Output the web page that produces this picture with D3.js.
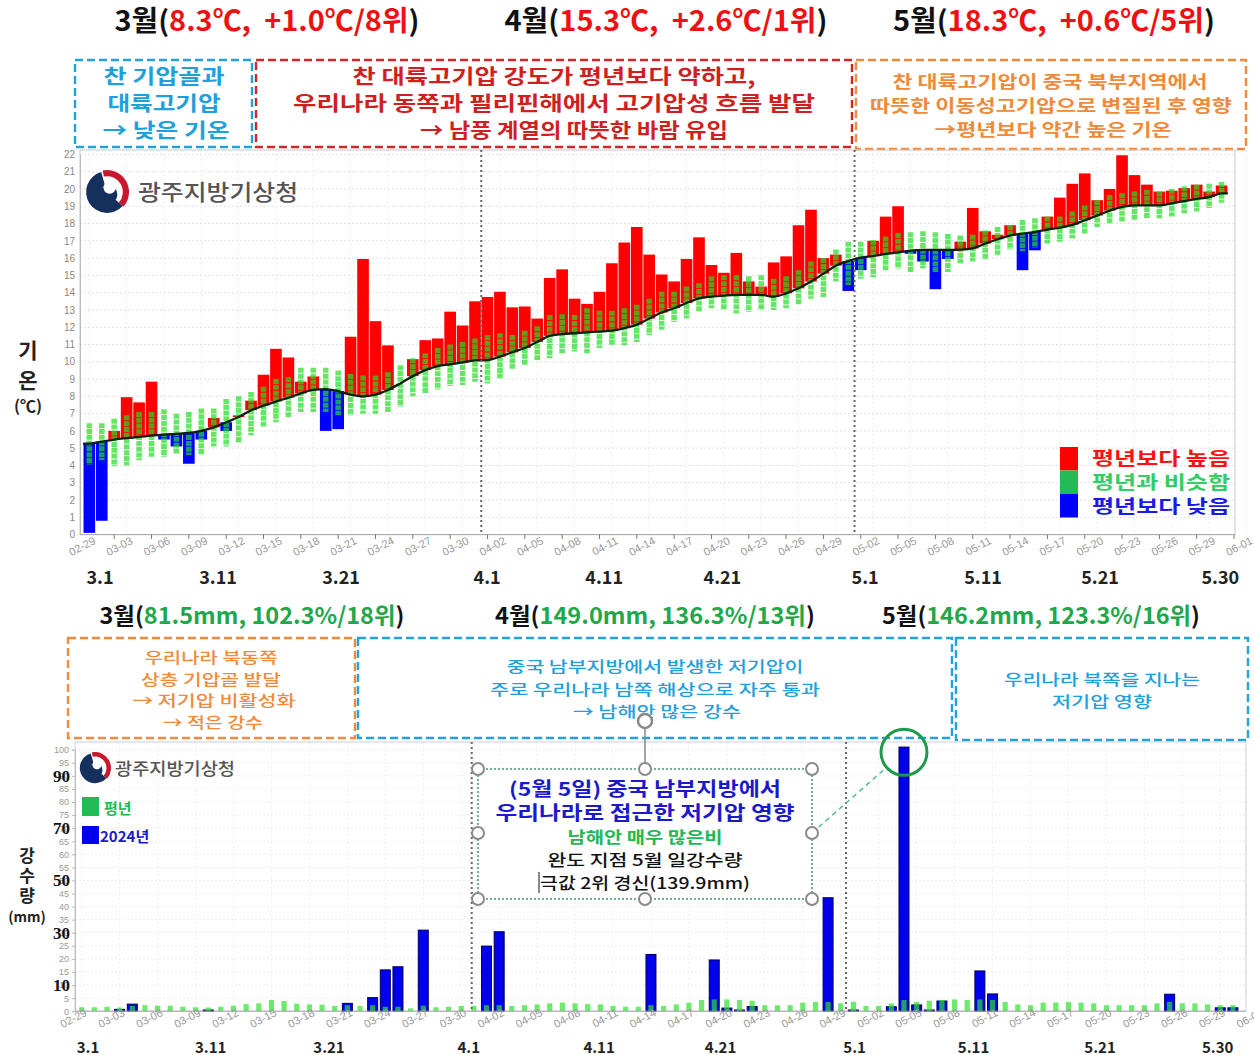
<!DOCTYPE html>
<html>
<head>
<meta charset="utf-8">
<script src="https://cdn.jsdelivr.net/npm/d3@7"></script>
<style>
body { margin: 0; background: #fff; }
svg { display: block; }
</style>
</head>
<body>
<script>
// ---- data : days 02-29 .. 05-30 (92 days) ----
var tickLabels = ["02-29","03-03","03-06","03-09","03-12","03-15","03-18","03-21","03-24","03-27","03-30",
  "04-02","04-05","04-08","04-11","04-14","04-17","04-20","04-23","04-26","04-29",
  "05-02","05-05","05-08","05-11","05-14","05-17","05-20","05-23","05-26","05-29","06-01"]
var dayLabels = ["3.1","3.11","3.21","4.1","4.11","4.21","5.1","5.11","5.21","5.30"]
var dayLabelPosTop = [0.86,10.35,20.23,31.97,41.38,50.88,62.35,71.83,81.23,90.9]
var dayLabelPosBottom = [0.5,10.2,19.55,30.6,40.9,50.5,61.1,70.5,80.5,89.8]

// daily mean temperature 2024
var tempActual = [0.1,0.8,6.0,7.95,7.65,8.85,5.5,5.1,4.1,5.5,6.75,6.0,6.9,7.75,9.25,10.75,10.25,8.85,9.15,6.0,
  6.1,11.45,15.95,12.35,10.95,8.75,10.15,11.25,11.35,12.9,12.1,13.5,13.75,14.05,13.15,13.2,12.5,14.85,15.35,13.65,
  13.35,14.05,15.7,16.9,17.8,16.2,15.05,14.65,15.95,17.2,15.6,15.15,16.3,14.65,14.35,15.75,16.1,17.9,18.8,16.0,
  16.2,14.1,15.3,17.0,18.4,19.0,16.25,15.8,14.2,15.95,16.95,18.9,17.55,17.35,17.9,15.3,16.45,18.4,19.5,20.3,
  20.9,19.35,20.0,21.95,20.8,20.25,19.85,19.9,20.05,20.25,19.85,20.2]
// normal (평년) mean
var tempNormal = [5.27,5.38,5.5,5.58,5.65,5.73,5.79,5.83,5.88,6.0,6.2,6.5,6.8,7.2,7.46,7.7,7.92,8.17,8.37,8.42,
  8.3,8.1,8.0,8.1,8.37,8.75,9.17,9.52,9.75,9.85,9.96,10.08,10.1,10.3,10.55,10.8,11.15,11.5,11.6,11.65,
  11.7,11.75,11.8,11.95,12.15,12.5,12.85,13.1,13.4,13.67,13.77,13.83,13.87,13.87,13.87,13.77,13.96,14.25,14.64,15.1,
  15.56,15.83,16.02,16.12,16.24,16.33,16.43,16.47,16.47,16.47,16.49,16.56,16.84,17.09,17.3,17.42,17.51,17.65,17.76,17.92,
  18.19,18.46,18.75,18.96,19.05,19.05,19.05,19.17,19.3,19.42,19.53,19.75]
// normal range (평년과 비슷함)
var normalHigh = [6.45,6.45,6.7,6.9,7.1,7.1,7.25,7.0,7.1,7.3,7.3,7.85,8.0,8.25,8.55,9.0,9.1,9.65,9.65,9.65,
  9.5,9.3,9.2,9.2,9.4,9.8,10.2,10.5,10.8,11.0,11.15,11.35,11.55,11.65,11.55,11.8,12.05,12.7,12.75,12.7,
  13.1,12.95,12.95,13.1,13.3,13.65,14.05,14.05,14.35,14.55,14.95,15.0,15.0,14.95,15.0,14.8,14.95,15.3,15.8,16.0,
  16.5,16.95,16.95,17.05,17.25,17.45,17.5,17.55,17.5,17.4,17.3,17.35,17.6,17.8,17.9,18.2,18.3,18.4,18.4,18.7,
  19.05,19.35,19.65,19.75,19.85,19.95,19.85,20.0,20.15,20.25,20.3,20.4]
var normalLow = [4.05,4.3,3.95,4.0,4.3,4.5,4.5,4.7,4.6,4.6,5.1,5.1,5.3,5.75,6.25,6.5,6.8,7.1,7.1,7.1,
  6.9,6.9,7.0,7.0,7.1,7.4,8.0,8.2,8.4,8.6,8.65,8.85,8.75,9.05,9.6,9.8,10.1,10.2,10.5,10.6,
  10.5,10.8,10.95,10.95,11.15,11.55,11.85,12.3,12.5,12.9,13.1,13.0,12.8,12.9,13.0,13.0,13.1,13.3,13.65,13.75,
  14.65,14.45,14.8,14.9,15.3,15.4,15.2,15.4,15.2,15.2,15.7,15.8,15.9,16.2,16.5,16.4,16.6,16.85,16.95,17.15,
  17.4,17.8,18.0,18.1,18.2,18.3,18.3,18.4,18.6,18.7,18.9,19.2]

// daily precipitation (mm)
var rain2024 = [0,0,0,0.7,2.7,0,0,0,0,0,0.3,0,0,0,0,0,0,0,0,0,
  0,3.0,0,5.2,15.8,17.0,0,31.0,0,0,0,0,24.9,30.4,0,0,0,0,0,0,
  0,0,0,0,0,21.7,0,0,0,0,19.6,1.2,0.3,1.8,0,0,0,0,0,43.4,
  0,0.3,0,0,1.7,101,2.4,0.3,3.9,0,0,15.4,6.6,0,0,0,0,0,0,0,
  0,0,0,0,0,0,6.5,0,0,0,1.3,1.3]
var rainNormal = [1.5,1.5,1.7,1.4,2.0,2.3,2.1,2.1,1.7,1.5,1.4,1.7,2.1,2.7,3.0,4.3,3.9,2.9,2.6,2.5,
  2.0,2.3,2.0,2.3,1.7,1.7,1.1,2.1,1.5,1.7,2.0,2.0,2.3,2.3,2.0,2.3,2.6,3.0,3.3,3.0,
  2.7,2.6,2.0,1.7,1.7,2.3,2.0,2.6,3.3,4.3,4.5,4.5,4.3,4.0,2.3,2.3,2.3,3.3,3.5,3.5,
  3.0,3.6,2.0,2.0,3.0,4.3,3.6,4.0,4.3,4.5,4.3,4.5,4.3,3.5,2.6,2.3,3.3,3.3,3.5,3.3,
  3.0,2.3,2.3,2.3,2.3,3.0,3.6,3.0,3.0,2.6,2.3,2.3]

var tempTitles = [["3","8.3℃,\u00a0 +1.0℃/8위"],["4","15.3℃,\u00a0 +2.6℃/1위"],["5","18.3℃,\u00a0 +0.6℃/5위"]]
var rainTitles = [["3","81.5mm, 102.3%/18위"],["4","149.0mm, 136.3%/13위"],["5","146.2mm, 123.3%/16위"]]

var svg = d3.select("body").append("svg")
  .attr("width", 1254)
  .attr("height", 1055)
  .style("font-family", "'Noto Sans CJK KR','Noto Sans',sans-serif")

// ---------- helpers ----------
function label(x, y, s, size, color, opts) {
  opts = opts || {}
  var t = svg.append("text")
    .attr("x", x).attr("y", y)
    .attr("font-size", size)
    .attr("fill", color)
    .attr("text-anchor", opts.anchor || "middle")
    .attr("font-weight", opts.weight || "normal")
    .text(s)
  if (opts.w) t.attr("textLength", opts.w).attr("lengthAdjust", "spacingAndGlyphs")
  return t
}

function dashedBox(x0, y0, x1, y1, color) {
  svg.append("rect")
    .attr("x", x0).attr("y", y0)
    .attr("width", x1 - x0).attr("height", y1 - y0)
    .attr("fill", "none")
    .attr("stroke", color)
    .attr("stroke-width", 2.4)
    .attr("stroke-dasharray", "8,4")
}

function monthTitle(cx, y, item, color, size, w) {
  var t = svg.append("text")
    .attr("x", cx).attr("y", y)
    .attr("text-anchor", "middle")
    .attr("font-size", size)
    .attr("font-weight", "bold")
    .attr("textLength", w).attr("lengthAdjust", "spacingAndGlyphs")
  t.append("tspan").attr("fill", "#111").text(item[0] + "월(")
  t.append("tspan").attr("fill", color).text(item[1])
  t.append("tspan").attr("fill", "#111").text(")")
}

function logo(cx, cy, r, textX, textY, size, w) {
  var g = svg.append("g")
  var arc = d3.arc()
  g.append("path")
    .attr("transform", "translate(" + cx + "," + cy + ")")
    .attr("d", arc({innerRadius: r * 0.72, outerRadius: r, startAngle: -0.2, endAngle: 2.3}))
    .attr("fill", "#c9172e")
  g.append("path")
    .attr("transform", "translate(" + cx + "," + cy + ")")
    .attr("d", arc({innerRadius: r * 0.3, outerRadius: r * 0.95, startAngle: 2.3, endAngle: 6.0}))
    .attr("fill", "#16305e")
  g.append("circle").attr("cx", cx + r * 0.05).attr("cy", cy + r * 0.12).attr("r", r * 0.42).attr("fill", "#16305e")
  g.append("circle").attr("cx", cx + r * 0.12).attr("cy", cy - r * 0.2).attr("r", r * 0.28).attr("fill", "#fff")
  label(textX, textY, "광주지방기상청", size, "#555", {anchor: "start", weight: "500", w: w})
}

// ================= TOP : temperature =================
tempTitles.forEach(function (d, i) {
  monthTitle([267, 666, 1054][i], 31, d, "#ee1111", 28, [305, 323, 322][i])
})

dashedBox(75, 60, 252, 147, "#1ea3de")
dashedBox(256, 60, 852, 147, "#d42424")
dashedBox(856, 60, 1246, 149, "#f08a3c")

var topNotes = [
  {s: "찬 기압골과", x: 164, y: 84, w: 121, c: "#1ea0dc", f: 20},
  {s: "대륙고기압", x: 164, y: 111, w: 113, c: "#1ea0dc", f: 20},
  {s: "→ 낮은 기온", x: 166, y: 138, w: 127, c: "#1ea0dc", f: 20},
  {s: "찬 대륙고기압 강도가 평년보다 약하고,", x: 554, y: 84, w: 403, c: "#d01f1f", f: 20},
  {s: "우리나라 동쪽과 필리핀해에서 고기압성 흐름 발달", x: 554, y: 111, w: 522, c: "#d01f1f", f: 20},
  {s: "→ 남풍 계열의 따뜻한 바람 유입", x: 574, y: 138, w: 308, c: "#d01f1f", f: 20},
  {s: "찬 대륙고기압이 중국 북부지역에서", x: 1050, y: 88, w: 315, c: "#ef8a3a", f: 17},
  {s: "따뜻한 이동성고기압으로 변질된 후 영향", x: 1051, y: 112, w: 362, c: "#ef8a3a", f: 17},
  {s: "→평년보다 약간 높은 기온", x: 1053, y: 136, w: 237, c: "#ef8a3a", f: 17}
]
topNotes.forEach(function (d) { label(d.x, d.y, d.s, d.f, d.c, {w: d.w, weight: "bold"}) })

var xT = d3.scaleLinear().domain([0, 92]).range([83.1, 1227.8])
var yT = d3.scaleLinear().domain([0, 22]).range([534.6, 154.4])
var slotT = xT(1) - xT(0)

// grid
var topG = svg.append("g")
topG.selectAll(".hg").data(d3.range(0, 23)).enter().append("line")
  .attr("x1", 80).attr("x2", 1235)
  .attr("y1", function (d) { return yT(d) }).attr("y2", function (d) { return yT(d) })
  .attr("stroke", "#e2e2e2").attr("stroke-dasharray", "2,2")
topG.selectAll(".vg").data(tickLabels).enter().append("line")
  .attr("x1", function (d, k) { return xT(3 * k + 0.5) }).attr("x2", function (d, k) { return xT(3 * k + 0.5) })
  .attr("y1", 150).attr("y2", 534.6)
  .attr("stroke", "#ececec").attr("stroke-dasharray", "2,2")
topG.append("rect").attr("x", 80).attr("y", 150).attr("width", 1155).attr("height", 384.6)
  .attr("fill", "none").attr("stroke", "#c8c8c8")

// anomaly bars (from normal mean to actual)
topG.selectAll(".anom").data(tempActual).enter().append("rect")
  .attr("x", function (d, i) { return xT(i) + 0.4 })
  .attr("width", slotT - 0.8)
  .attr("y", function (d, i) { return yT(Math.max(d, tempNormal[i])) })
  .attr("height", function (d, i) { return Math.abs(yT(d) - yT(tempNormal[i])) })
  .attr("fill", function (d, i) { return d >= tempNormal[i] ? "#ff0000" : "#0000ff" })

// normal range bars
topG.selectAll(".rng").data(normalHigh).enter().append("line")
  .attr("x1", function (d, i) { return xT(i + 0.5) }).attr("x2", function (d, i) { return xT(i + 0.5) })
  .attr("y1", function (d) { return yT(d) })
  .attr("y2", function (d, i) { return yT(normalLow[i]) })
  .attr("stroke", "#22dd22").attr("stroke-opacity", 0.7)
  .attr("stroke-width", 5.6).attr("stroke-dasharray", "5,0.8")

// normal mean line
var meanPts = tempNormal.map(function (d, i) { return [xT(i + 0.5), yT(d)] })
meanPts.unshift([xT(0), yT(tempNormal[0])])
meanPts.push([xT(92), yT(tempNormal[91])])
topG.append("path")
  .attr("d", d3.line().curve(d3.curveMonotoneX)(meanPts))
  .attr("fill", "none").attr("stroke", "#0d220d").attr("stroke-width", 2.3)

// month separators
topG.selectAll(".msep").data([32, 62]).enter().append("line")
  .attr("x1", function (d) { return xT(d) }).attr("x2", function (d) { return xT(d) })
  .attr("y1", 150).attr("y2", 534.6)
  .attr("stroke", "#666").attr("stroke-width", 2).attr("stroke-dasharray", "2,3")

// y axis
var yAxisT = topG.append("g").attr("transform", "translate(80,0)")
  .call(d3.axisLeft(yT).tickValues(d3.range(0, 23)).tickSize(0).tickPadding(5))
yAxisT.select(".domain").attr("stroke", "#bbb")
yAxisT.selectAll("text").attr("font-size", 10).attr("fill", "#888").attr("font-family", "Arial, 'Liberation Sans', sans-serif")

// x ticks
topG.append("line").attr("x1", 80).attr("x2", 1235).attr("y1", 534.6).attr("y2", 534.6).attr("stroke", "#aaa")
topG.selectAll(".xt").data(tickLabels).enter().append("line")
  .attr("x1", function (d, k) { return xT(3 * k + 2.5) }).attr("x2", function (d, k) { return xT(3 * k + 2.5) })
  .attr("y1", 534.6).attr("y2", 539).attr("stroke", "#777")
topG.selectAll(".xl").data(tickLabels).enter().append("text")
  .attr("transform", function (d, k) { return "translate(" + (xT(3 * k + 0.5) + 7) + ",543) rotate(-28)" })
  .attr("text-anchor", "end").attr("font-size", 11).attr("fill", "#999")
  .attr("font-family", "Arial, 'Liberation Sans', sans-serif")
  .text(function (d) { return d })

dayLabels.forEach(function (d, i) {
  label(xT(dayLabelPosTop[i] + 0.5), 584, d, 18, "#222", {weight: "bold"})
})

// y title
label(28, 358, "기", 21, "#222", {weight: "bold"})
label(28, 388, "온", 21, "#222", {weight: "bold"})
label(28, 412, "(℃)", 16, "#222", {weight: "bold"})

// legend
var legTop = [["평년보다 높음", "#ff0000", "#ff1010"], ["평년과 비슷함", "#22bb55", "#33cc66"], ["평년보다 낮음", "#0000ff", "#1a1ae6"]]
legTop.forEach(function (d, i) {
  svg.append("rect").attr("x", 1060).attr("y", 447 + i * 23.5).attr("width", 18).attr("height", 23.5).attr("fill", d[1])
  label(1092, 465 + i * 24, d[0], 18, d[2], {anchor: "start", weight: "bold", w: 138})
})

logo(107, 192, 22, 138, 200, 22, 160)

// ================= BOTTOM : precipitation =================
rainTitles.forEach(function (d, i) {
  monthTitle([252, 655, 1041][i], 624, d, "#1fa84a", 23, [305, 320, 318][i])
})

dashedBox(68, 638, 355, 738, "#f08a3c")
dashedBox(358, 638, 952, 738, "#1ea3de")
dashedBox(956, 638, 1248, 740, "#1ea3de")

var botNotes = [
  {s: "우리나라 북동쪽", x: 211, y: 663, w: 133, c: "#ef8a3a"},
  {s: "상층 기압골 발달", x: 211, y: 685, w: 140, c: "#ef8a3a"},
  {s: "→ 저기압 비활성화", x: 214, y: 706, w: 163, c: "#ef8a3a"},
  {s: "→ 적은 강수", x: 213, y: 728, w: 100, c: "#ef8a3a"},
  {s: "중국 남부지방에서 발생한 저기압이", x: 655, y: 672, w: 297, c: "#1ea0dc"},
  {s: "주로 우리나라 남쪽 해상으로 자주 통과", x: 655, y: 695, w: 330, c: "#1ea0dc"},
  {s: "→ 남해안 많은 강수", x: 657, y: 717, w: 168, c: "#1ea0dc"},
  {s: "우리나라 북쪽을 지나는", x: 1102, y: 685, w: 196, c: "#1ea0dc"},
  {s: "저기압 영향", x: 1102, y: 707, w: 100, c: "#1ea0dc"}
]
botNotes.forEach(function (d) { label(d.x, d.y, d.s, 15, d.c, {w: d.w, weight: "500"}) })

var xB = d3.scaleLinear().domain([0, 91]).range([81.7, 1232.9])
var yB = d3.scaleLinear().domain([0, 100]).range([1011.2, 749.7])

var botG = svg.append("g")
botG.selectAll(".hg").data(d3.range(0, 101, 5)).enter().append("line")
  .attr("x1", 75).attr("x2", 1246)
  .attr("y1", function (d) { return yB(d) }).attr("y2", function (d) { return yB(d) })
  .attr("stroke", "#ececec").attr("stroke-dasharray", "2,2")
botG.selectAll(".vg").data(tickLabels).enter().append("line")
  .attr("x1", function (d, k) { return xB(3 * k) }).attr("x2", function (d, k) { return xB(3 * k) })
  .attr("y1", 742).attr("y2", 1011.2)
  .attr("stroke", "#f0f0f0").attr("stroke-dasharray", "2,2")
botG.append("rect").attr("x", 75).attr("y", 742).attr("width", 1171).attr("height", 269.2)
  .attr("fill", "none").attr("stroke", "#cfcbe0")

// 2024 bars
botG.selectAll(".rb").data(rain2024).enter().append("rect")
  .attr("class", "rb")
  .attr("x", function (d, j) { return xB(j) - 5 }).attr("width", 10)
  .attr("y", function (d) { return yB(0) - Math.max(yB(0) - yB(d), 1.2) })
  .attr("height", function (d) { return Math.max(yB(0) - yB(d), 1.2) })
  .attr("fill", "#0000ee").attr("stroke", "#00005a").attr("stroke-width", 1)
  .style("display", function (d) { return d > 0 ? null : "none" })

// normal bars
botG.selectAll(".nb").data(rainNormal).enter().append("rect")
  .attr("x", function (d, j) { return xB(j) - 2.6 }).attr("width", 5.2)
  .attr("y", function (d) { return yB(d) })
  .attr("height", function (d) { return yB(0) - yB(d) })
  .attr("fill", "#2fe02f").attr("fill-opacity", 0.7)

// month separators (bottom chart)
botG.selectAll(".msep").data([30.83, 60.42]).enter().append("line")
  .attr("x1", function (d) { return xB(d) }).attr("x2", function (d) { return xB(d) })
  .attr("y1", 742).attr("y2", 1011.2)
  .attr("stroke", "#666").attr("stroke-width", 2).attr("stroke-dasharray", "2,3")

// y axis
var yAxisB = botG.append("g").attr("transform", "translate(75,0)")
  .call(d3.axisLeft(yB).tickValues(d3.range(0, 101, 5)).tickSize(3).tickPadding(3))
yAxisB.select(".domain").attr("stroke", "#bbb")
yAxisB.selectAll(".tick line").attr("stroke", "#bbb")
yAxisB.selectAll("text").attr("font-size", 9).attr("fill", "#999").attr("font-family", "Arial, 'Liberation Sans', sans-serif")
;[10, 30, 50, 70, 90].forEach(function (v) {
  label(70, yB(v) + 6, String(v), 17, "#111", {anchor: "end", weight: "bold"})
    .attr("font-family", "'Times New Roman','Liberation Serif',serif")
})

botG.append("line").attr("x1", 75).attr("x2", 1246).attr("y1", 1011.2).attr("y2", 1011.2).attr("stroke", "#aaa")
botG.selectAll(".xl").data(tickLabels).enter().append("text")
  .attr("transform", function (d, k) { return "translate(" + (xB(3 * k) + 6) + ",1015) rotate(-28)" })
  .attr("text-anchor", "end").attr("font-size", 11).attr("fill", "#999")
  .attr("font-family", "Arial, 'Liberation Sans', sans-serif")
  .text(function (d) { return d })

dayLabels.forEach(function (d, i) {
  label(xB(dayLabelPosBottom[i]), 1053, d, 15, "#222", {weight: "bold"})
})

label(27, 862, "강", 17, "#222", {weight: "bold"})
label(27, 882, "수", 17, "#222", {weight: "bold"})
label(27, 902, "량", 17, "#222", {weight: "bold"})
label(27, 922, "(mm)", 14, "#222", {weight: "bold"})

// legend
svg.append("rect").attr("x", 82).attr("y", 797).attr("width", 17).attr("height", 19).attr("fill", "#22bb55")
label(104, 814, "평년", 15, "#22bb55", {anchor: "start", weight: "bold"})
svg.append("rect").attr("x", 82).attr("y", 826).attr("width", 17).attr("height", 18).attr("fill", "#0000ee")
label(100, 842, "2024년", 15, "#1a1acc", {anchor: "start", weight: "bold"})

logo(95, 768, 16, 115, 775, 17, 120)

// ---- annotation for the heavy rain ----
var ann = svg.append("g")
ann.append("line").attr("x1", 812).attr("y1", 833).attr("x2", 887).attr("y2", 767)
  .attr("stroke", "#55bb99").attr("stroke-width", 1.5).attr("stroke-dasharray", "5,4")
ann.append("circle").attr("cx", xB(65)).attr("cy", yB(99)).attr("r", 23)
  .attr("fill", "none").attr("stroke", "#1a9a4a").attr("stroke-width", 3)
ann.append("rect").attr("x", 478).attr("y", 769).attr("width", 334).attr("height", 130)
  .attr("fill", "#fff").attr("fill-opacity", 0.85)
  .attr("stroke", "#3a9a7a").attr("stroke-width", 1.5).attr("stroke-dasharray", "2,2")
ann.append("line").attr("x1", 645).attr("y1", 728).attr("x2", 645).attr("y2", 769).attr("stroke", "#888").attr("stroke-width", 1.5)
ann.append("circle").attr("cx", 645).attr("cy", 721).attr("r", 7).attr("fill", "#fff").attr("stroke", "#888").attr("stroke-width", 2.5)
var handles = [[478, 769], [645, 769], [812, 769], [478, 833], [812, 833], [478, 899], [645, 899], [812, 899]]
handles.forEach(function (p) {
  ann.append("circle").attr("cx", p[0]).attr("cy", p[1]).attr("r", 6)
    .attr("fill", "#fff").attr("stroke", "#8a8a8a").attr("stroke-width", 2)
})
label(645, 796, "(5월 5일) 중국 남부지방에서", 19, "#1a1acc", {weight: "bold", w: 272})
label(645, 820, "우리나라로 접근한 저기압 영향", 19, "#1a1acc", {weight: "bold", w: 299})
label(645, 843, "남해안 매우 많은비", 16, "#22b855", {weight: "bold", w: 155})
label(645, 866, "완도 지점 5월 일강수량", 16, "#111", {weight: "500", w: 195})
label(645, 889, "극값 2위 경신(139.9mm)", 16, "#111", {weight: "500", w: 210})
ann.append("line").attr("x1", 539).attr("y1", 872).attr("x2", 539).attr("y2", 893).attr("stroke", "#111").attr("stroke-width", 1)
</script>
</body>
</html>
